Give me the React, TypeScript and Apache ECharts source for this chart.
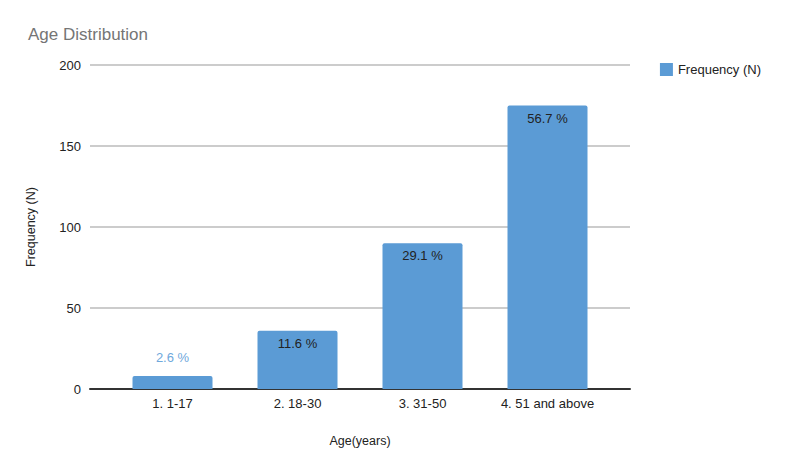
import React, { useEffect, useRef } from "react";
import * as echarts from "echarts";

const categories = ["1. 1-17", "2. 18-30", "3. 31-50", "4. 51 and above"];
const frequency = [8, 36, 90, 175];
const percentLabels = ["2.6 %", "11.6 %", "29.1 %", "56.7 %"];
const labelInside = [false, true, true, true];
const yMin = 0;
const yMax = 200;
const yStep = 50;

export default function App() {
  const ref = useRef<HTMLDivElement>(null);
  useEffect(() => {
    document.body.style.margin = "0";
    const chart = echarts.init(ref.current!, null, { renderer: "svg" });
    const barColor = "#5b9bd5";
    chart.setOption({
      animation: false,
      backgroundColor: "#ffffff",
      textStyle: { fontFamily: "Liberation Sans, Arial, sans-serif" },
      title: {
        text: "Age Distribution",
        left: 23,
        top: 21,
        textStyle: { fontSize: 17, fontWeight: "normal", color: "#757575" },
      },
      legend: {
        data: ["Frequency (N)"],
        right: 22,
        top: 58,
        itemWidth: 13,
        itemHeight: 13,
        itemGap: 8,
        textStyle: { fontSize: 13, color: "#222222" },
        icon: "rect",
      },
      grid: [
        { left: 90, right: 158, top: 65, bottom: 81 },
        { left: 110, right: 178, top: 65, bottom: 81 },
      ],
      xAxis: [
        {
          gridIndex: 0,
          type: "value",
          min: 0,
          max: 1,
          axisLine: { show: true, onZero: false, lineStyle: { color: "#333333", width: 2 } },
          axisTick: { show: false },
          axisLabel: { show: false },
          splitLine: { show: false },
        },
        {
          gridIndex: 1,
          type: "category",
          data: categories,
          name: "Age(years)",
          nameLocation: "middle",
          nameGap: 45,
          nameTextStyle: { fontSize: 12.5, color: "#222222" },
          axisLine: { show: false },
          axisTick: { show: false },
          axisLabel: { fontSize: 13, color: "#222222", margin: 8 },
        },
      ],
      yAxis: [
        {
          gridIndex: 0,
          type: "value",
          min: yMin,
          max: yMax,
          interval: yStep,
          name: "Frequency (N)",
          nameLocation: "middle",
          nameGap: 53,
          nameTextStyle: { fontSize: 12.5, color: "#222222" },
          axisLine: { show: false },
          axisTick: { show: false },
          axisLabel: { fontSize: 13, color: "#222222", margin: 9 },
          splitLine: { lineStyle: { color: "#cccccc", width: 2 } },
        },
        {
          gridIndex: 1,
          type: "value",
          min: yMin,
          max: yMax,
          interval: yStep,
          show: false,
          splitLine: { show: false },
        },
      ],
      series: [
        {
          name: "Frequency (N)",
          type: "bar",
          xAxisIndex: 1,
          yAxisIndex: 1,
          barWidth: 80,
          itemStyle: { color: barColor, borderRadius: [2, 2, 0, 0] },
          data: frequency.map((v, i) => ({
            value: v,
            label: {
              show: true,
              formatter: percentLabels[i],
              position: labelInside[i] ? "insideTop" : "top",
              distance: labelInside[i] ? 6 : 12,
              color: labelInside[i] ? "#222222" : "#6fa8dc",
              fontSize: 13,
            },
          })),
        },
      ],
    });
    return () => chart.dispose();
  }, []);
  return <div ref={ref} style={{ width: 788, height: 470 }} />;
}
